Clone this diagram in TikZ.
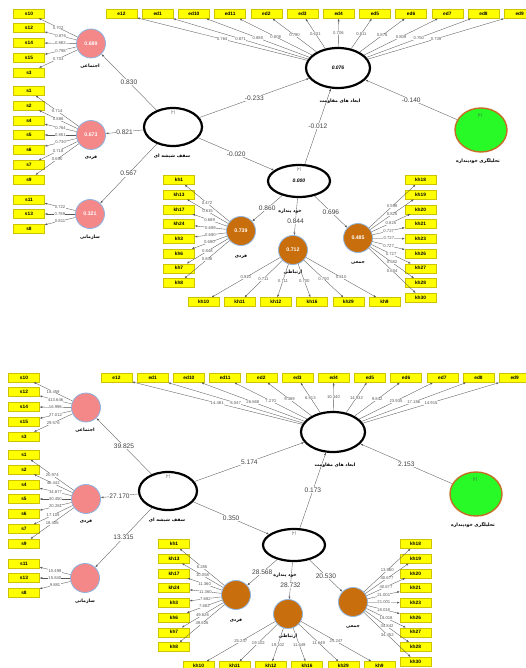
\documentclass[tikz,border=0pt]{standalone}
\usepackage{fontspec}
\setmainfont{Liberation Sans}
\newfontfamily\fafont[Script=Arabic]{DejaVu Sans}
\TeXXeTstate=1
\usetikzlibrary{arrows.meta, shapes.geometric}

\definecolor{boxyellow}{RGB}{255,255,0}
\definecolor{boxedge}{RGB}{205,195,0}
\definecolor{socpink}{RGB}{244,136,136}
\definecolor{ringblue}{RGB}{140,180,225}
\definecolor{dimbrown}{RGB}{201,110,12}
\definecolor{gaugegreen}{RGB}{40,250,40}
\definecolor{gaugeedge}{RGB}{196,110,36}

\newcommand\fa[1]{{\fafont\beginR #1\endR}}

% constructs and indicators of one panel (pixel positions)
\newcommand\plsnodes[8]{%
  \foreach \n [count=\i from 0] in {e12,ed1,ed10,ed11,ed2,ed3,ed4,ed5,ed6,ed7,ed8,ed9}
    \node[ind] (\n) at (121.5+36.2*\i,14) {\n};
  \foreach \n/\y in {s10/13.5,s12/28,s14/43,s15/58,s3/72.5,
                     s1/91,s2/105.7,s4/120.5,s5/135,s6/150,s7/165,s9/179.5,
                     s11/199.5,s13/214,s8/228.5}
    \node[ind] (\n) at (29,\y) {\n};
  \foreach \n [count=\i from 0] in {kh1,kh13,kh17,kh24,kh3,kh6,kh7,kh8}
    \node[ind] (\n) at (179,180+14.7*\i) {\n};
  \foreach \n [count=\i from 0] in {kh18,kh19,kh20,kh21,kh23,kh26,kh27,kh28,kh30}
    \node[ind] (\n) at (420.5,180+14.7*\i) {\n};
  \foreach \n [count=\i from 0] in {kh10,kh11,kh12,kh16,kh29,kh9}
    \node[ind] (\n) at (203.5+36.2*\i,302) {\n};
  % constructs
  \node[pinklv] (soc) at (91,43.5) {#1};
  \node[pinklv] (indiv) at (91,135) {#2};
  \node[pinklv] (org) at (90,214) {#3};
  \node[glasslv,minimum width=58pt,minimum height=38pt] (glass) at (173,127) {};
  \node[glasslv,minimum width=64pt,minimum height=40pt] (dims) at (338,68) {#4};
  \node[glasslv,minimum width=62pt,minimum height=32pt] (self) at (299,181) {#5};
  \node[gaugelv] (analyst) at (481,130) {};
  \node[brownlv] (khind) at (241,231) {#6};
  \node[brownlv] (khrel) at (293,250) {#7};
  \node[brownlv] (khcol) at (358,238) {#8};
  % names
  \node[lvname] (soc name) at (90,66) {\fa{اجتماعی}};
  \node[lvname] (indiv name) at (91,158) {\fa{فردی}};
  \node[lvname] (org name) at (90,237) {\fa{سازمانی}};
  \node[lvname] (glass name) at (172,156) {\fa{سقف شیشه ای}};
  \node[lvname] (dims name) at (340,101) {\fa{ابعاد های مقاومت}};
  \node[lvname] (analyst name) at (478,161) {\fa{تحلیلگری خودپنداره}};
  \node[lvname] (self name) at (290,211) {\fa{خود پنداره}};
  \node[lvname] (khind name) at (241,257) {\fa{فردی}};
  \node[lvname] (khrel name) at (293,272) {\fa{ارتباطی}};
  \node[lvname] (khcol name) at (358,263) {\fa{جمعی}};
  \node[plus] (glass plus) at (173,113) {[+]};
  \node[plus] (self plus) at (299,169.5) {[+]};
  \node[plus] (analyst plus) at (480,116) {[+]};
}

\begin{document}
\begin{tikzpicture}[x=1pt,y=-1pt,>={Latex[length=2.6pt,width=2pt]},
    ind/.style={rectangle,draw=boxedge,line width=0.3pt,fill=boxyellow,
      minimum width=31pt,minimum height=9pt,inner sep=0pt,
      font=\fontsize{4.8}{5}\selectfont\bfseries},
    lv/.style={circle,draw=ringblue,line width=0.8pt,minimum size=29pt,inner sep=0pt,
      text=white,font=\fontsize{5.2}{6}\selectfont\bfseries},
    pinklv/.style={lv,fill=socpink},
    brownlv/.style={lv,fill=dimbrown},
    glasslv/.style={ellipse,draw,line width=2.2pt,fill=white,inner sep=0pt,
      font=\fontsize{5}{6}\selectfont\bfseries\itshape},
    gaugelv/.style={ellipse,draw=gaugeedge,line width=1.4pt,fill=gaugegreen,
      minimum width=52pt,minimum height=44pt},
    lvname/.style={font=\fontsize{4.6}{5}\selectfont\bfseries,inner sep=0pt},
    plus/.style={font=\fontsize{3.6}{4}\selectfont,text=black!70,inner sep=0pt},
    ld/.style={->,draw=black!65,line width=0.35pt},
    lval/.style={fill=white,inner sep=0.2pt,text=black!65,font=\fontsize{4.2}{5}\selectfont},
    pval/.style={fill=white,inner sep=0.6pt,text=black!75,font=\fontsize{6.6}{7}\selectfont}]

  \useasboundingbox (0,0) rectangle (526,668);

  % path coefficients and loadings
  \begin{scope}[name prefix=t-]
    \plsnodes{0.689}{0.673}{0.321}{0.076}{0.000}{0.739}{0.712}{0.485}
    \foreach \n/\v in {s10/0.702,s12/0.876,s14/0.882,s15/0.798,s3/0.703}
      \draw[ld] (soc) -- node[lval]{\v} (\n);
    \foreach \n/\v in {s1/0.714,s2/0.888,s4/0.764,s5/0.851,s6/0.730,s7/0.718,s9/0.690}
      \draw[ld] (indiv) -- node[lval]{\v} (\n);
    \foreach \n/\v in {s11/0.722,s13/0.789,s8/0.811}
      \draw[ld] (org) -- node[lval]{\v} (\n);
    \foreach \n/\v in {e12/0.764,ed1/0.871,ed10/0.880,ed11/0.808,ed2/0.780,ed3/0.631,
                       ed4/0.706,ed5/0.811,ed6/0.876,ed7/0.809,ed8/0.750,ed9/0.739}
      \draw[ld] (dims) -- node[lval]{\v} (\n);
    \foreach \n/\v in {kh1/0.472,kh13/0.615,kh17/0.689,kh24/0.689,kh3/0.690,kh6/0.690,
                       kh7/0.848,kh8/0.848}
      \draw[ld] (khind) -- node[lval]{\v} (\n);
    \foreach \n/\v in {kh10/0.810,kh11/0.711,kh12/0.711,kh16/0.700,kh29/0.700,kh9/0.810}
      \draw[ld] (khrel) -- node[lval]{\v} (\n);
    \foreach \n/\v in {kh18/0.598,kh19/0.825,kh20/0.825,kh21/0.727,kh23/0.727,kh26/0.727,
                       kh27/0.727,kh28/0.582,kh30/0.604}
      \draw[ld] (khcol) -- node[lval]{\v} (\n);
    \draw[ld] (glass) -- node[pval]{0.830} (soc);
    \draw[ld] (glass) -- node[pval]{0.821} (indiv);
    \draw[ld] (glass) -- node[pval]{0.567} (org);
    \draw[ld] (glass) -- node[pval]{-0.233} (dims);
    \draw[ld] (glass) -- node[pval]{-0.020} (self);
    \draw[ld] (self) -- node[pval]{-0.012} (dims);
    \draw[ld] (analyst) -- node[pval]{-0.140} (dims);
    \draw[ld] (self) -- node[pval]{0.860} (khind);
    \draw[ld] (self) -- node[pval,pos=0.62]{0.844} (khrel);
    \draw[ld] (self) -- node[pval]{0.696} (khcol);
  \end{scope}

  % bootstrap t values
  \begin{scope}[shift={(-5,364)},name prefix=b-]
    \plsnodes{}{}{}{}{}{}{}{}
    \foreach \n/\v in {s10/18.459,s12/413.646,s14/16.998,s15/27.012,s3/29.576}
      \draw[ld] (soc) -- node[lval]{\v} (\n);
    \foreach \n/\v in {s1/20.974,s2/46.442,s4/34.877,s5/30.450,s6/20.281,s7/17.105,s9/18.406}
      \draw[ld] (indiv) -- node[lval]{\v} (\n);
    \foreach \n/\v in {s11/10.498,s13/15.840,s8/9.881}
      \draw[ld] (org) -- node[lval]{\v} (\n);
    \foreach \n/\v in {e12/14.481,ed1/8.047,ed10/26.668,ed11/7.270,ed2/9.369,ed3/6.813,
                       ed4/10.340,ed5/14.932,ed6/9.842,ed7/23.935,ed8/17.186,ed9/14.915}
      \draw[ld] (dims) -- node[lval]{\v} (\n);
    \foreach \n/\v in {kh1/6.285,kh13/10.058,kh17/11.360,kh24/11.360,kh3/7.682,kh6/7.682,
                       kh7/49.626,kh8/49.626}
      \draw[ld] (khind) -- node[lval]{\v} (\n);
    \foreach \n/\v in {kh10/25.247,kh11/19.102,kh12/19.102,kh16/11.649,kh29/11.649,kh9/25.247}
      \draw[ld] (khrel) -- node[lval]{\v} (\n);
    \foreach \n/\v in {kh18/13.860,kh19/40.677,kh20/40.677,kh21/21.001,kh23/21.001,
                       kh26/18.018,kh27/18.018,kh28/34.842,kh30/34.452}
      \draw[ld] (khcol) -- node[lval]{\v} (\n);
    \draw[ld] (glass) -- node[pval]{39.825} (soc);
    \draw[ld] (glass) -- node[pval]{27.170} (indiv);
    \draw[ld] (glass) -- node[pval]{13.315} (org);
    \draw[ld] (glass) -- node[pval]{5.174} (dims);
    \draw[ld] (glass) -- node[pval]{0.350} (self);
    \draw[ld] (self) -- node[pval]{0.173} (dims);
    \draw[ld] (analyst) -- node[pval]{2.153} (dims);
    \draw[ld] (self) -- node[pval]{28.568} (khind);
    \draw[ld] (self) -- node[pval,pos=0.62]{28.732} (khrel);
    \draw[ld] (self) -- node[pval]{20.530} (khcol);
  \end{scope}
\end{tikzpicture}
\end{document}
